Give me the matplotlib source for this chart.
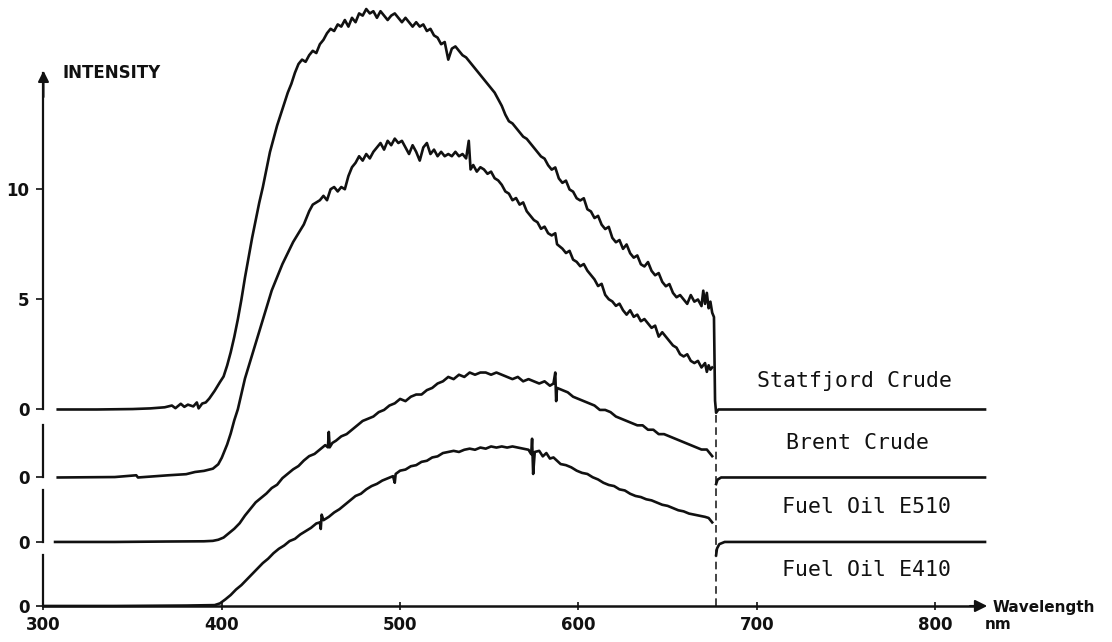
import numpy as np
import matplotlib
matplotlib.use("Agg")
from matplotlib import pyplot as plt

# wavelength (nm) / intensity readings, each trace relative to its own zero line
statfjord_nm = [308, 330, 350, 360, 368, 372, 374, 377, 379, 381, 384, 386, 387, 389, 391, 393, 396, 399,
                401, 403, 405, 407, 409, 411, 413, 415, 417, 419, 421, 423, 425, 427, 429, 431, 433, 435,
                437, 439, 441, 443, 445, 447, 449, 451, 453, 455, 457, 459, 461, 463, 465, 467, 469, 471,
                473, 475, 477, 479, 481, 483, 485, 487, 489, 491, 493, 495, 497, 499, 501, 503, 505, 507,
                509, 511, 513, 515, 517, 519, 521, 523, 525, 527, 529, 531, 533, 535, 537, 539, 541, 543,
                545, 547, 549, 551, 553, 555, 557, 559, 561, 563, 565, 567, 569, 571, 573, 575, 577, 579,
                581, 583, 585, 587, 589, 591, 593, 595, 597, 599, 601, 603, 605, 607, 609, 611, 613, 615,
                617, 619, 621, 623, 625, 627, 629, 631, 633, 635, 637, 639, 641, 643, 645, 647, 649, 651,
                653, 655, 657, 659, 661, 663, 665, 667, 669, 670, 671, 672, 673, 674, 675, 676,
                676.6, 677.2, 678.5, 690, 828]
statfjord_val = [0.0, 0.0, 0.02, 0.05, 0.1, 0.18, 0.06, 0.26, 0.12, 0.22, 0.14, 0.32, 0.05, 0.27, 0.32, 0.5, 0.85, 1.25,
                 1.5, 2.0, 2.6, 3.3, 4.1, 5.0, 6.0, 6.9, 7.8, 8.6, 9.4, 10.1, 10.9, 11.7, 12.3, 12.9, 13.4, 13.9,
                 14.4, 14.8, 15.3, 15.7, 15.9, 15.8, 16.1, 16.3, 16.2, 16.6, 16.8, 17.1, 17.3, 17.2, 17.5, 17.4, 17.7, 17.4,
                 17.8, 17.6, 18.0, 17.9, 18.2, 18.0, 18.1, 17.8, 18.1, 17.9, 17.7, 17.9, 18.0, 17.8, 17.6, 17.8, 17.6, 17.4,
                 17.6, 17.4, 17.5, 17.2, 17.3, 17.0, 16.9, 16.6, 16.7, 15.9, 16.4, 16.5, 16.3, 16.1, 16.0, 15.8, 15.6, 15.4,
                 15.2, 15.0, 14.8, 14.6, 14.4, 14.1, 13.8, 13.4, 13.1, 13.0, 12.8, 12.6, 12.4, 12.3, 12.1, 11.9, 11.7, 11.5,
                 11.4, 11.1, 10.9, 11.0, 10.5, 10.3, 10.4, 10.0, 9.9, 9.6, 9.5, 9.6, 9.1, 9.0, 8.7, 8.8, 8.4, 8.2,
                 8.3, 7.8, 7.6, 7.7, 7.3, 7.5, 7.1, 6.9, 7.0, 6.6, 6.5, 6.7, 6.3, 6.1, 6.2, 5.8, 5.6, 5.7,
                 5.3, 5.1, 5.2, 5.0, 4.8, 5.2, 4.9, 5.0, 4.7, 5.4, 4.8, 5.3, 4.6, 4.9, 4.4, 4.2,
                 0.4, -0.15, 0.0, 0.0, 0.0]

brent_nm = [308, 340, 352, 353, 370, 380, 385, 390, 395, 398, 400, 403, 405, 407, 409, 411, 413, 416, 419, 422,
            425, 428, 431, 434, 437, 440, 443, 446, 449, 451, 453, 455, 457, 459, 461, 463, 465, 467, 469, 471,
            473, 475, 477, 479, 481, 483, 485, 487, 489, 491, 493, 495, 497, 499, 501, 503, 505, 507, 509, 511,
            513, 515, 517, 519, 521, 523, 525, 527, 529, 531, 533, 535, 537, 538.5, 539.5, 541, 543, 545, 547, 549,
            551, 553, 555, 557, 559, 561, 563, 565, 567, 569, 571, 573, 575, 577, 579, 581, 583, 585, 587, 588,
            591, 593, 595, 597, 599, 601, 603, 605, 607, 609, 611, 613, 615, 617, 619, 621, 623, 625, 627, 629,
            631, 633, 635, 637, 639, 641, 643, 645, 647, 649, 651, 653, 655, 657, 659, 661, 663, 665, 667, 669,
            671, 672, 673, 674, 675,
            677.2, 678, 680, 690, 828]
brent_val = [0.0, 0.02, 0.1, 0.0, 0.1, 0.15, 0.25, 0.3, 0.4, 0.6, 0.9, 1.5, 2.0, 2.6, 3.1, 3.8, 4.5, 5.3, 6.1, 6.9,
             7.7, 8.5, 9.1, 9.7, 10.2, 10.7, 11.1, 11.5, 12.1, 12.4, 12.5, 12.6, 12.8, 12.6, 13.1, 13.2, 13.0, 13.2, 13.1, 13.7,
             14.1, 14.3, 14.6, 14.4, 14.7, 14.5, 14.8, 15.0, 15.2, 14.9, 15.3, 15.1, 15.4, 15.2, 15.3, 15.0, 14.7, 15.1, 14.8, 14.4,
             15.0, 15.2, 14.7, 14.9, 14.6, 14.8, 14.6, 14.7, 14.6, 14.8, 14.6, 14.7, 14.5, 15.3, 14.0, 14.2, 13.9, 14.1, 14.0, 13.8,
             13.9, 13.6, 13.5, 13.3, 13.0, 12.9, 12.6, 12.7, 12.4, 12.5, 12.1, 11.9, 11.7, 11.6, 11.3, 11.4, 11.1, 11.0, 11.1, 10.6,
             10.4, 10.2, 10.3, 9.9, 9.8, 9.6, 9.7, 9.4, 9.2, 9.0, 8.7, 8.8, 8.3, 8.1, 8.0, 7.8, 7.9, 7.6, 7.4, 7.6,
             7.3, 7.4, 7.1, 7.2, 7.0, 6.8, 6.9, 6.4, 6.6, 6.4, 6.2, 6.0, 5.9, 5.6, 5.5, 5.6, 5.3, 5.2, 5.3, 5.0,
             5.2, 4.8, 5.1, 4.9, 5.0,
             -0.3, -0.1, 0.0, 0.0, 0.0]

e510_nm = [306.5, 340, 370, 390, 395, 398, 401, 404, 407, 410, 413, 416, 419, 422, 425, 428, 431, 434, 437, 440,
           443, 446, 449, 452, 455, 458, 459.5, 460, 460.5, 462, 464, 467, 470, 473, 476, 479, 482, 485, 488, 491,
           494, 497, 500, 503, 506, 509, 512, 515, 518, 521, 524, 527, 530, 533, 536, 539, 542, 545, 548, 551,
           554, 557, 560, 563, 566, 569, 572, 575, 578, 581, 584, 586, 587, 587.5, 588, 591, 594, 597, 600, 603,
           606, 609, 612, 615, 618, 621, 624, 627, 630, 633, 636, 639, 642, 645, 648, 651, 654, 657, 660, 663,
           666, 669, 672, 674, 675,
           677.2, 677.7, 679, 682, 828]
e510_val = [0.0, 0.0, 0.02, 0.03, 0.05, 0.1, 0.2, 0.4, 0.6, 0.85, 1.2, 1.5, 1.8, 2.0, 2.2, 2.45, 2.6, 2.9, 3.1, 3.3,
            3.45, 3.7, 3.9, 4.0, 4.2, 4.4, 4.3, 5.0, 4.3, 4.5, 4.6, 4.8, 4.9, 5.1, 5.3, 5.5, 5.6, 5.7, 5.9, 6.0,
            6.2, 6.3, 6.5, 6.4, 6.6, 6.7, 6.7, 6.9, 7.0, 7.2, 7.3, 7.5, 7.4, 7.6, 7.5, 7.7, 7.6, 7.7, 7.7, 7.6,
            7.7, 7.6, 7.5, 7.4, 7.5, 7.3, 7.4, 7.3, 7.2, 7.3, 7.1, 7.2, 7.7, 6.4, 7.0, 6.9, 6.8, 6.6, 6.5, 6.4,
            6.3, 6.2, 6.0, 6.0, 5.9, 5.7, 5.6, 5.5, 5.4, 5.3, 5.3, 5.1, 5.1, 4.9, 4.9, 4.8, 4.7, 4.6, 4.5, 4.4,
            4.3, 4.2, 4.2, 4.0, 3.9,
            -0.6, -0.3, -0.1, 0.0, 0.0]

e410_nm = [300, 340, 380, 396, 399, 402, 405, 408, 411, 414, 417, 420, 423, 426, 429, 432, 435, 438, 441, 444,
           447, 450, 453, 455, 455.5, 456, 457, 460, 463, 466, 469, 472, 475, 478, 481, 484, 487, 490, 493, 496,
           497, 497.5, 500, 503, 506, 509, 512, 515, 518, 521, 524, 527, 530, 533, 536, 539, 542, 545, 548, 551,
           554, 557, 560, 563, 566, 569, 572, 573.5, 574, 574.6, 575.5, 578, 580, 582, 584, 586, 588, 590, 593, 596,
           599, 602, 605, 608, 611, 614, 617, 620, 623, 626, 629, 632, 635, 638, 641, 644, 647, 650, 653, 656,
           659, 662, 665, 668, 671, 673, 675]
e410_val = [0.0, 0.0, 0.02, 0.04, 0.12, 0.3, 0.5, 0.75, 0.95, 1.2, 1.45, 1.7, 1.95, 2.15, 2.4, 2.6, 2.75, 2.95, 3.05, 3.25,
            3.4, 3.55, 3.75, 3.8, 3.5, 4.15, 3.9, 4.05, 4.25, 4.4, 4.6, 4.8, 5.0, 5.1, 5.3, 5.45, 5.55, 5.7, 5.8, 5.9,
            5.6, 6.0, 6.15, 6.2, 6.35, 6.4, 6.55, 6.6, 6.75, 6.8, 6.95, 7.0, 7.05, 7.0, 7.1, 7.15, 7.1, 7.2, 7.15, 7.25,
            7.2, 7.25, 7.2, 7.25, 7.2, 7.15, 7.1, 6.9, 7.6, 6.0, 7.0, 7.05, 6.8, 6.95, 6.7, 6.75, 6.6, 6.45, 6.4, 6.3,
            6.15, 6.05, 6.0, 5.85, 5.75, 5.6, 5.5, 5.45, 5.3, 5.25, 5.1, 5.0, 4.95, 4.85, 4.8, 4.7, 4.6, 4.55, 4.45, 4.35,
            4.3, 4.2, 4.15, 4.1, 4.05, 4.0, 3.8]

names = ["Statfjord Crude", "Brent Crude", "Fuel Oil E510", "Fuel Oil E410"]
traces = [(statfjord_nm, statfjord_val), (brent_nm, brent_val), (e510_nm, e510_val), (e410_nm, e410_val)]

# vertical stacking of the four traces (zero line of each)
offsets = [8.93, 5.84, 2.91, 0.0]
label_pos = [(754.6, 10.23), (756.3, 7.41), (761.3, 4.5), (761.3, 1.64)]
cutoff_nm = 677.2
xticks = [300, 400, 500, 600, 700, 800]

fig = plt.figure(figsize=(11.12, 6.42), dpi=100)
ax = fig.add_axes([0.0391, 0.0561, 0.8512, 0.838])
ax.set_xlim(300, 830.8)
ax.set_ylim(0, 24.45)
for s in ax.spines.values():
    s.set_visible(False)

ink = "#111111"
lw = 1.9
for i, (nm, val) in enumerate(traces):
    nm = np.array(nm)
    y = np.array(val) + offsets[i]
    if i == 0:
        ax.plot(nm, y, color=ink, lw=lw, clip_on=False, solid_joinstyle="round")
    else:
        cut = np.searchsorted(nm, 676.5)
        ax.plot(nm[:cut], y[:cut], color=ink, lw=lw, clip_on=False, solid_joinstyle="round")
        if cut < len(nm):
            ax.plot(nm[cut:], y[cut:], color=ink, lw=lw, clip_on=False)
    ax.text(*label_pos[i], names[i], ha="center", va="center",
            family="DejaVu Sans Mono", fontsize=15.5, color=ink)

# cut-off marker
ax.plot([cutoff_nm, cutoff_nm], [0, offsets[0]], color=ink, lw=1.1,
        dashes=(5, 3), clip_on=False)

# broken intensity axis, one piece per trace
y_pieces = [(offsets[0], 24.2), (offsets[1], 8.23), (offsets[2], 5.27), (offsets[3], 2.32)]
for lo, hi in y_pieces:
    ax.plot([300, 300], [lo, hi], color=ink, lw=1.6, clip_on=False)
ax.annotate("", xy=(300, 24.45), xytext=(300, 23.0),
            arrowprops=dict(arrowstyle="-|>", color=ink, lw=1.5, mutation_scale=16),
            annotation_clip=False)

# wavelength axis
ax.plot([300, 822], [0, 0], color=ink, lw=1.8, clip_on=False)
ax.annotate("", xy=(830.8, 0), xytext=(818, 0),
            arrowprops=dict(arrowstyle="-|>", color=ink, lw=1.5, mutation_scale=18),
            annotation_clip=False)

tick_font = dict(family="DejaVu Sans", weight="bold", size=12)
ax.set_xticks(xticks)
ax.set_xticklabels([str(t) for t in xticks], **tick_font)
yt = offsets + [offsets[0] + 5, offsets[0] + 10]
ax.set_yticks(yt)
ax.set_yticklabels(["0", "0", "0", "0", "5", "10"], **tick_font)
ax.tick_params(axis="x", direction="inout", length=6, width=1.2, pad=4, colors=ink)
ax.tick_params(axis="y", direction="out", length=5, width=1.2, pad=5, colors=ink)

ax.text(310.9, 24.2, "INTENSITY", ha="left", va="center", fontsize=12,
        fontweight="bold", color=ink)
ax.text(832.5, -0.05, "Wavelength", ha="left", va="center", fontsize=11,
        fontweight="bold", color=ink)
ax.text(828.0, -0.86, "nm", ha="left", va="center", fontsize=11,
        fontweight="bold", color=ink)

fig.savefig("out.png", dpi=100, facecolor="white")
